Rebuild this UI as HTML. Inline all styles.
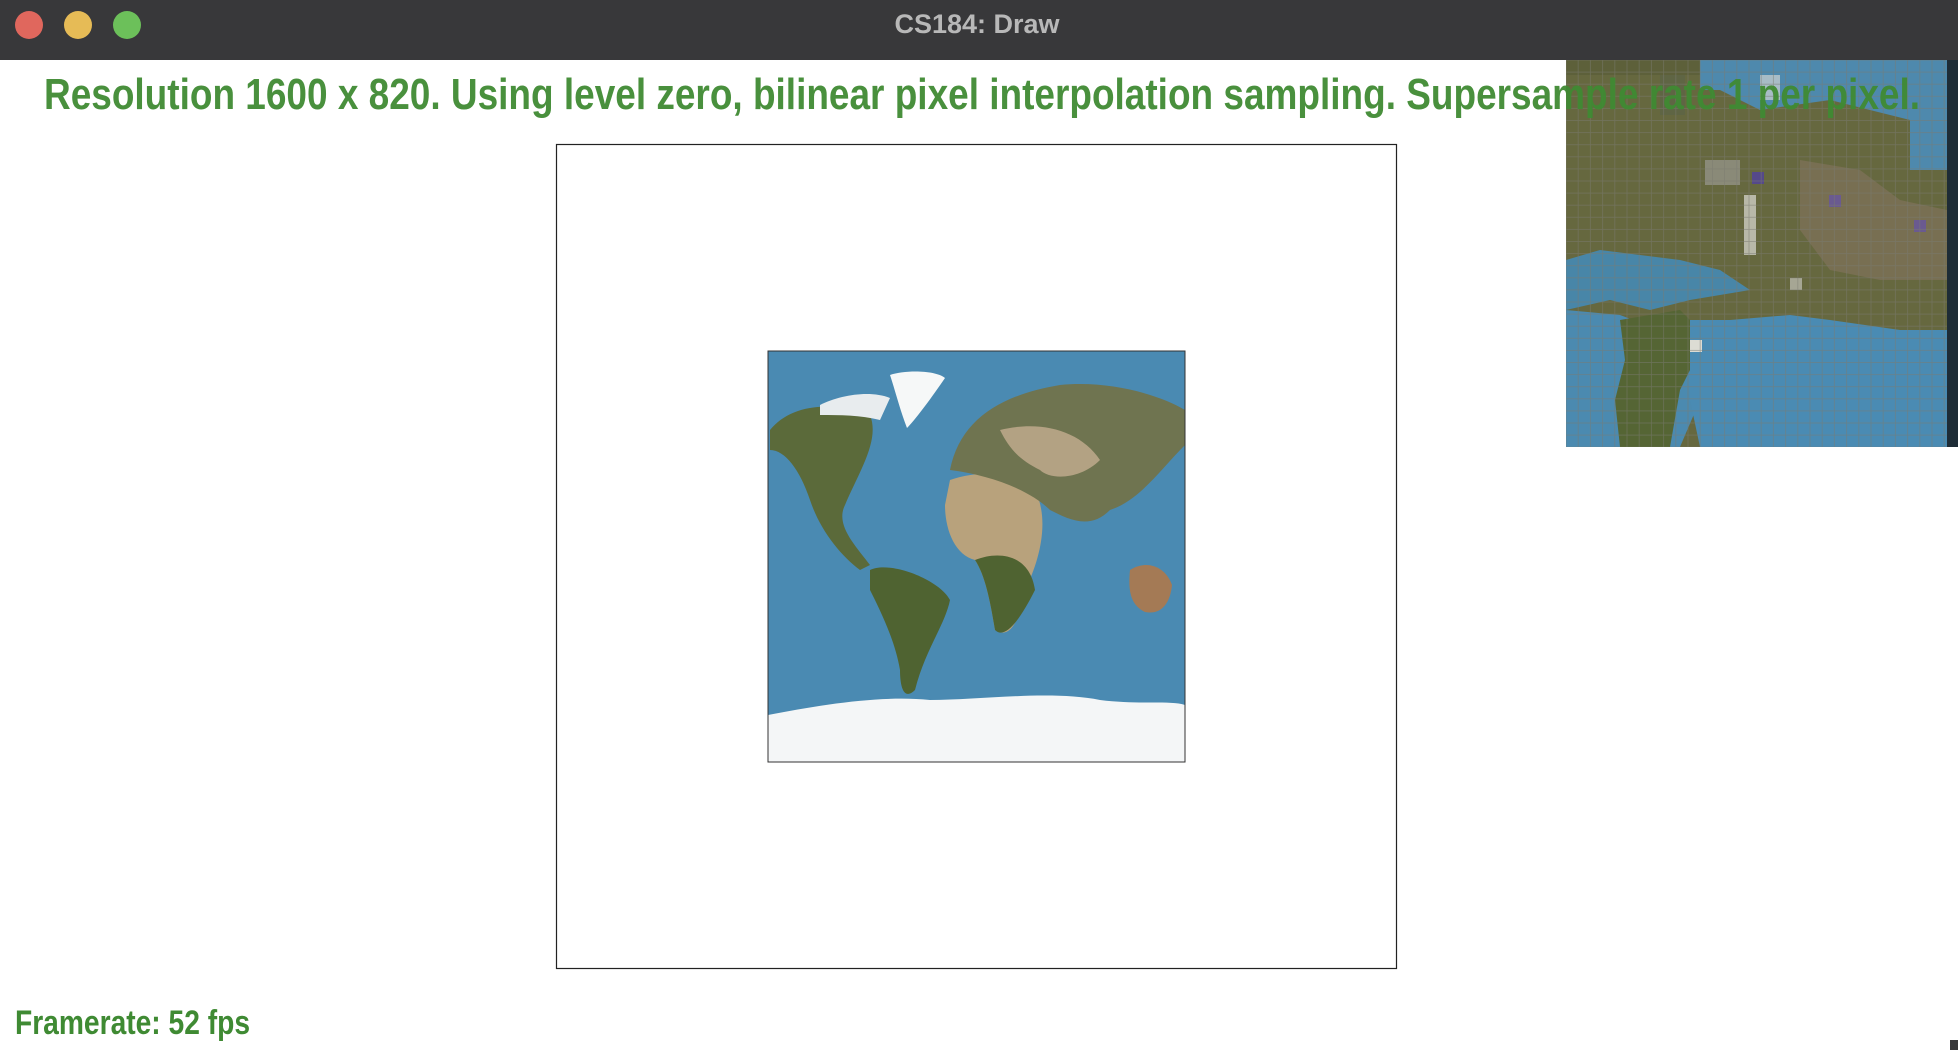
<!DOCTYPE html>
<html><head><meta charset="utf-8"><style>
html,body{margin:0;padding:0;width:1958px;height:1050px;overflow:hidden;background:#fff;font-family:"Liberation Sans",sans-serif}
</style></head><body>
<svg width="1958" height="1050" viewBox="0 0 1958 1050" xmlns="http://www.w3.org/2000/svg">
<defs>
<pattern id="grid" x="1566" y="60" width="12.2" height="12.1" patternUnits="userSpaceOnUse">
<rect width="12.2" height="12.1" fill="none" stroke="#7a7a70" stroke-width="0.8" opacity="0.6"/>
</pattern>
<clipPath id="mapclip"><rect x="768" y="351" width="417" height="411"/></clipPath>
<clipPath id="insetclip"><rect x="1566" y="60" width="392" height="387"/></clipPath>
</defs>
<rect x="0" y="0" width="1958" height="60" fill="#38383a"/>
<circle cx="29" cy="25" r="14" fill="#e0675d"/>
<circle cx="78" cy="25" r="14" fill="#e6bb56"/>
<circle cx="127" cy="25" r="14" fill="#6cc05a"/>
<text x="977" y="33" text-anchor="middle" font-size="27" font-weight="bold" fill="#b8b8b8">CS184: Draw</text>

<rect x="556.5" y="144.5" width="840" height="824" fill="none" stroke="#222" stroke-width="1.2"/>

<g clip-path="url(#mapclip)">
<rect x="768" y="351" width="417" height="411" fill="#4a8ab2"/>
<path d="M770,430 C790,405 830,400 870,415 C880,440 860,470 845,505 C835,525 855,545 870,565 L860,570 C840,555 820,530 810,500 C800,470 785,450 770,450Z" fill="#5b6a3a"/>
<path d="M820,405 C840,395 870,390 890,398 L880,420 C860,415 840,415 820,415Z" fill="#e8ecee"/>
<path d="M890,375 C905,370 935,370 945,378 C930,400 915,420 907,428 C900,410 895,390 890,375Z" fill="#f6f8f8"/>
<path d="M870,570 C890,560 940,580 950,600 C945,625 925,650 915,690 C905,700 900,690 900,670 C895,640 880,610 870,590Z" fill="#4f6331"/>
<path d="M950,480 C980,470 1020,470 1035,490 C1050,520 1040,560 1025,590 C1020,620 1010,640 995,630 C990,600 985,575 975,560 C955,555 945,530 945,505Z" fill="#b8a27c"/>
<path d="M975,560 C1000,550 1030,555 1035,590 C1020,620 1005,640 995,630 C990,600 985,575 975,560Z" fill="#4f6331"/>
<path d="M950,470 C960,420 1000,395 1060,385 C1110,380 1160,395 1185,410 L1185,445 C1160,470 1140,500 1110,510 C1090,530 1070,520 1050,510 C1030,490 990,475 950,470Z" fill="#6f7450"/>
<path d="M1000,430 C1040,420 1080,430 1100,460 C1080,480 1050,480 1040,470 C1020,460 1010,450 1000,430Z" fill="#b3a283"/>
<path d="M1130,570 C1145,560 1165,565 1172,585 C1170,605 1160,615 1145,612 C1130,605 1128,590 1130,570Z" fill="#a47a55"/>
<path d="M768,715 C820,705 880,695 930,700 C980,700 1050,690 1100,700 C1140,705 1170,700 1185,705 L1185,762 L768,762Z" fill="#f4f6f7"/>
</g>
<rect x="768" y="351" width="417" height="411" fill="none" stroke="#333" stroke-width="1"/>

<g clip-path="url(#insetclip)">
<rect x="1566" y="60" width="392" height="387" fill="#66683f"/>
<path d="M1566,60 L1700,60 L1700,75 L1566,75Z" fill="#5d603a"/>
<path d="M1700,60 L1947,60 L1947,170 L1910,170 L1910,120 L1830,100 L1760,110 L1720,90 L1700,90Z" fill="#4e89ad"/>
<path d="M1760,75 L1780,75 L1780,100 L1760,100Z" fill="#a8bcc6"/>
<path d="M1566,260 L1600,250 L1640,255 L1680,260 L1720,270 L1750,290 L1690,300 L1650,310 L1610,300 L1566,310Z" fill="#4886a8"/>
<path d="M1566,310 L1620,315 L1660,330 L1690,330 L1710,350 L1700,400 L1680,447 L1566,447Z" fill="#4b8ab0"/>
<path d="M1620,320 L1680,310 L1700,330 L1695,360 L1680,390 L1670,447 L1620,447 L1615,400 L1625,360Z" fill="#556534"/>
<path d="M1690,320 L1730,320 L1790,315 L1830,320 L1900,330 L1947,330 L1947,447 L1700,447 L1690,400Z" fill="#4a8bb3"/>
<path d="M1800,160 L1860,170 L1900,200 L1947,210 L1947,280 L1880,280 L1830,270 L1800,230Z" fill="#786f52"/>
<rect x="1660" y="75" width="25" height="40" fill="#5f6544"/>
<rect x="1705" y="160" width="35" height="25" fill="#8a8a78"/>
<rect x="1744" y="195" width="12" height="60" fill="#b8b8a8"/>
<rect x="1790" y="278" width="12" height="12" fill="#a6a694"/>
<rect x="1752" y="172" width="12" height="12" fill="#55498a"/>
<rect x="1829" y="195" width="12" height="12" fill="#6a5a90"/>
<rect x="1914" y="220" width="12" height="12" fill="#6a5a90"/>
<rect x="1690" y="340" width="12" height="12" fill="#dcdcd4"/>
<rect x="1566" y="60" width="392" height="387" fill="url(#grid)"/>
<rect x="1947" y="60" width="11" height="387" fill="#1e2c36"/>
</g>

<text x="44" y="109" textLength="1876" lengthAdjust="spacingAndGlyphs" font-size="44" font-weight="bold" fill="#3f8a33" fill-opacity="0.95">Resolution 1600 x 820. Using level zero, bilinear pixel interpolation sampling. Supersample rate 1 per pixel.</text>
<text x="15" y="1034" textLength="235" lengthAdjust="spacingAndGlyphs" font-size="34" font-weight="bold" fill="#3f8a33">Framerate: 52 fps</text>
<rect x="1950" y="1040" width="8" height="10" fill="#38383a"/>
</svg>
</body></html>
